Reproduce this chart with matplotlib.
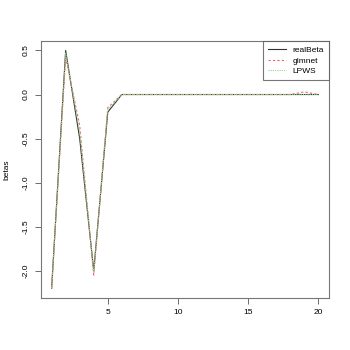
import matplotlib
matplotlib.use("Agg")
import matplotlib.pyplot as plt
import numpy as np

idx = list(range(1, 21))
realBeta = [-2.2, 0.5, -0.5, -2.0, -0.2] + [0.0] * 15
glmnet = [-2.2, 0.42, -0.35, -2.05, -0.15] + [0.0] * 13 + [0.03, 0.0]
lpws = [-2.2, 0.47, -0.42, -2.02, -0.17] + [0.0] * 15
xticks = [5, 10, 15, 20]
yticks = [-2.0, -1.5, -1.0, -0.5, 0.0, 0.5]

plt.rcParams['font.family'] = ['Liberation Sans', 'DejaVu Sans']
fig = plt.figure(figsize=(3.5, 3.5), dpi=100)
ax = fig.add_axes([0.117, 0.149, 0.823, 0.734])

ax.plot(idx, realBeta, color='#333333', lw=0.8, label='realBeta')
ax.plot(idx, glmnet, color='#f06070', lw=0.8, ls=(0, (2, 2)), label='glmnet')
ax.plot(idx, lpws, color='#88dd88', lw=0.8, ls=(0, (1, 1)), label='LPWS')

ax.set_xlim(0.24, 20.76)
ax.set_ylim(-2.308, 0.608)
ax.set_xticks(xticks)
ax.set_xticklabels([str(v) for v in xticks])
ax.set_yticks(yticks)
ax.set_yticklabels([f"{v:.1f}" for v in yticks], rotation=90, va='center')
ax.tick_params(labelsize=6, length=4, width=0.6, color='#555555', direction='out', pad=4)
for s in ax.spines.values():
    s.set_color('#777777')
    s.set_linewidth(0.8)
ax.set_ylabel('betas', fontsize=6, labelpad=9)

leg = ax.legend(loc='upper right', fontsize=6, frameon=True, fancybox=False,
                borderaxespad=0, handlelength=2.2, labelspacing=0.35, borderpad=0.6)
leg.get_frame().set_edgecolor('#555555')
leg.get_frame().set_linewidth(0.8)

fig.savefig('out.png', dpi=100)
